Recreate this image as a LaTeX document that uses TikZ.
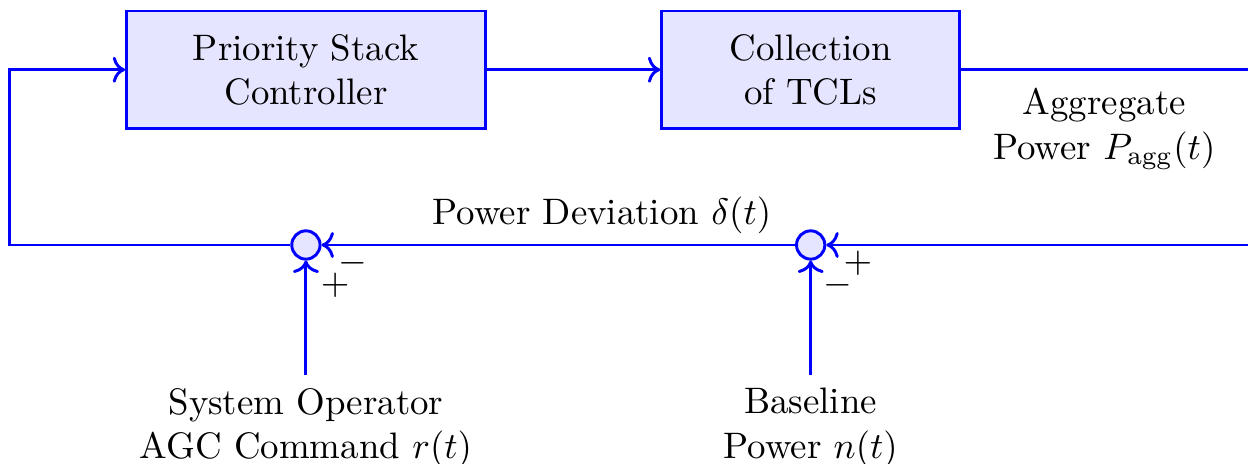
\documentclass[tikz,border=0pt]{standalone}
\usetikzlibrary{positioning,arrows.meta}

\begin{document}
\begin{tikzpicture}[
    x=1cm, y=1cm,
    blk/.style={draw=blue, fill=blue!10, thick, minimum height=1.12cm, align=center},
    sumnode/.style={circle, draw=blue, fill=blue!10, thick, minimum size=0.27cm, inner sep=0pt},
    sig/.style={draw=blue, thick, ->},
    lbl/.style={align=center},
    sgn/.style={inner sep=0pt},
  ]
    \useasboundingbox (0,0) rectangle (11.9,-4.42);

    % ===== forward path =====
    \node[blk, minimum width=3.42cm] (ctrl) at (2.917,-0.665) {Priority Stack\\Controller};
    \node[blk, minimum width=2.84cm] (tcls) at (7.73,-0.665) {Collection\\of TCLs};
    \draw[sig] (ctrl) -- (tcls);

    % output leaves the page on the right and comes back
    \coordinate (rc) at (12.1,-0.665);
    \node[lbl] (agg) at (10.53,-1.23) {Aggregate\\Power $P_{\mathrm{agg}}(t)$};

    % ===== summing junctions =====
    \node[sumnode] (sumA) at (2.917,-2.336) {};
    \node[sumnode] (sumB) at (7.73,-2.336) {};
    \draw[sig] (tcls.east) -- (rc) |- (sumB.east);
    \draw[sig] (sumB) -- (sumA);
    \node[lbl] (dev) at (5.74,-2.05) {Power Deviation $\delta(t)$};

    % signs
    \node[sgn] (pA) at ([shift={(0.28,-0.38)}]sumA) {$+$};
    \node[sgn] (mA) at ([shift={(0.45,-0.17)}]sumA) {$-$};
    \node[sgn] (mB) at ([shift={(0.26,-0.38)}]sumB) {$-$};
    \node[sgn] (pB) at ([shift={(0.45,-0.17)}]sumB) {$+$};

    % ===== feedback to controller =====
    \coordinate (lc) at (0.095,-0.665);
    \draw[sig] (sumA.west) -| (lc) -- (ctrl.west);

    % ===== external inputs =====
    \node[lbl] (agc) at (2.917,-4.08) {System Operator\\AGC Command $r(t)$};
    \node[lbl] (base) at (7.73,-4.08) {Baseline\\Power $n(t)$};
    \draw[sig] (agc.north) -- (sumA.south);
    \draw[sig] (base.north) -- (sumB.south);

\end{tikzpicture}
\end{document}
